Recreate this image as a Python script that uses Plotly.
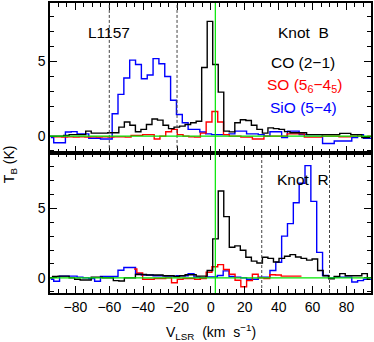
import plotly.graph_objects as go

# channel centres (km/s) for each line
v_co = [-95.11, -91.85, -88.59, -85.33, -82.07, -78.81, -75.55, -72.29, -69.03, -65.77,
        -62.51, -59.25, -55.99, -52.73, -49.47, -46.21, -42.95, -39.69, -36.43, -33.17,
        -29.91, -26.65, -23.39, -20.13, -16.87, -13.61, -10.35, -7.09, -3.83, -0.57,
        2.69, 5.95, 9.21, 12.47, 15.73, 18.99, 22.25, 25.51, 28.77, 32.03,
        35.29, 38.55, 41.81, 45.07, 48.33, 51.59, 54.85, 58.11, 61.37, 64.63,
        67.89, 71.15, 74.41, 77.67, 80.93, 84.19, 87.45, 90.71, 93.97]
v_so = [-93.17, -89.76, -86.35, -82.94, -79.53, -76.12, -72.71, -69.30, -65.89, -62.48,
        -59.07, -55.66, -52.25, -48.84, -45.43, -42.02, -38.61, -35.20, -31.79, -28.38,
        -24.97, -21.56, -18.15, -14.74, -11.33, -7.92, -4.51, -1.10, 2.31, 5.72,
        9.13, 12.54, 15.95, 19.36, 22.77, 26.18, 29.59, 33.00, 36.41, 39.82,
        43.23, 46.64, 50.05, 53.46, 56.87, 60.28, 63.69, 67.10, 70.51, 73.92,
        77.33, 80.74, 84.15, 87.56, 90.97, 94.38]
v_so_r = [-45.43, -42.02, -38.61, -35.20, -31.79, -28.38, -24.97, -21.56, -18.15, -14.74,
          -11.33, -7.92, -4.51, -1.10, 2.31, 5.72, 9.13, 12.54, 15.95, 19.36,
          22.77, 26.18, 29.59, 33.00, 36.41, 39.82, 43.23, 46.64, 50.05, 53.46]
v_sio = [-94.53, -91.08, -87.63, -84.18, -80.73, -77.28, -73.83, -70.38, -66.93, -63.48,
         -60.03, -56.58, -53.13, -49.68, -46.23, -42.78, -39.33, -35.88, -32.43, -28.98,
         -25.53, -22.08, -18.63, -15.18, -11.73, -8.28, -4.83, -1.38, 2.07, 5.52,
         8.97, 12.42, 15.87, 19.32, 22.77, 26.22, 29.67, 33.12, 36.57, 40.02,
         43.47, 46.92, 50.37, 53.82, 57.27, 60.72, 64.17, 67.62, 71.07, 74.52,
         77.97, 81.42, 84.87, 88.32, 91.77, 95.22]

# Knot B (top panel), T_B in K
co_b = [0.0, 0.0, 0.0, 0.05, 0.1, 0.1, 0.1, 0.33, 0.2, 0.2,
        0.2, 0.22, 0.22, 0.6, 0.95, 0.73, 0.29, 0.45, 0.78, 1.15,
        1.07, 0.73, 0.5, 0.6, 0.67, 0.78, 0.9, 1.0, 4.6, 7.7,
        4.8, 2.95, 0.33, 0.28, 0.9, 1.1, 1.05, 0.73, 0.45, 0.2,
        0.55, 0.5, 0.45, 0.3, 0.22, 0.22, 0.22, 0.1, 0.1, 0.1,
        0.1, 0.1, 0.1, 0.18, 0.18, 0.1, 0.1, -0.1, -0.1]
so_b = [-0.05, -0.05, -0.07, -0.05, -0.07, -0.05, -0.07, -0.05, -0.07, -0.05,
        -0.07, -0.05, -0.05, -0.07, 0.05, 0.05, 0.1, 0.1, -0.2, 0.0,
        0.29, 0.45, 0.1, 0.0, -0.05, -0.07, 0.2, 0.95, 1.65, 0.95,
        0.1, 0.0, 0.0, -0.07, -0.07, -0.2, -0.2, 0.0, 0.0, 0.0,
        0.0, 0.15, 0.15, 0.15, -0.07, -0.07, -0.07, 0.0, 0.0, 0.0,
        -0.05, -0.05, 0.0, 0.0, -0.05, 0.0]
sio_b = [-0.1, -0.45, -0.45, 0.27, 0.3, 0.15, 0.15, -0.15, -0.15, -0.2,
         -0.2, 1.5, 2.8, 3.9, 5.1, 4.8, 3.85, 4.1, 5.2, 4.85,
         4.0, 2.4, 1.45, 0.9, 0.45, 0.45, 0.27, 0.15, 0.1, 0.1,
         0.1, 0.15, 0.33, 0.33, 0.15, 0.15, 0.1, 0.0, 0.29, 0.29,
         -0.1, 0.33, 0.33, 0.1, 0.1, 0.1, 0.1, -0.5, -0.5, -0.33,
         -0.33, -0.33, -0.1, 0.1, -0.15, -0.15]

# Knot R (bottom panel)
co_r = [0.0, 0.1, 0.12, 0.12, 0.0, -0.1, -0.16, -0.16, 0.05, 0.05,
        0.0, 0.0, -0.2, -0.23, 0.0, 0.0, 0.24, 0.24, 0.2, 0.2,
        0.2, 0.15, 0.15, 0.1, 0.15, 0.22, 0.22, 0.12, 0.12, 0.53,
        2.8, 6.24, 4.4, 2.2, 2.3, 1.98, 1.48, 1.2, 1.07, 1.48,
        1.4, 1.14, 1.4, 1.55, 1.67, 1.5, 1.4, 1.27, 1.35, 0.53,
        0.15, -0.07, 0.1, 0.3, 0.15, 0.15, 0.15, 0.3, -0.1]
so_r = [0.64, 0.36, -0.1, -0.1, -0.05, -0.05, 0.0, -0.35, -0.1, -0.05,
        -0.05, -0.1, -0.05, 0.4, 0.8, 0.95, 0.6, 0.26, -0.17, -0.64,
        -0.2, 0.26, 0.0, -0.05, 0.22, 0.2, 0.12, 0.12, 0.12, 0.12]
sio_r = [-0.1, -0.25, 0.12, 0.12, 0.12, 0.05, 0.0, -0.05, -0.25, 0.1,
         0.1, 0.1, 0.55, 0.74, 0.74, 0.3, 0.2, 0.2, 0.15, 0.15,
         0.12, 0.12, 0.15, 0.15, 0.3, 0.05, 0.0, 0.07, 0.07, 0.17,
         0.5, 0.1, 0.05, 0.0, -0.1, -0.1, 0.05, 0.05, 0.53, 1.12,
         3.0, 3.9, 5.4, 6.8, 8.07, 5.5, 1.83, 0.17, 0.0, 0.05,
         0.05, 0.05, -0.3, -0.2, -0.1, -0.1]

v_sys = 2.6
dashes_b = [-60, -20]
dashes_r = [30, 70]

FONT = "Liberation Sans, Arial, sans-serif"
GREEN = "#00e600"

fig = go.Figure()

def spec(x, y, color, ya):
    fig.add_trace(go.Scatter(x=x, y=y, mode="lines", line_shape="hvh",
                             line=dict(color=color, width=1.4),
                             xaxis="x" if ya == "y" else "x2", yaxis=ya,
                             showlegend=False, hoverinfo="skip"))

spec(v_sio, sio_b, "#0000ff", "y")
spec(v_so, so_b, "#ff0000", "y")
spec(v_co, co_b, "#000000", "y")
spec(v_sio, sio_r, "#0000ff", "y2")
spec(v_so_r, so_r, "#ff0000", "y2")
spec(v_co, co_r, "#000000", "y2")

shapes = []
for v in dashes_b:
    shapes.append(dict(type="line", xref="x", yref="y domain", x0=v, x1=v, y0=0, y1=1,
                       line=dict(color="#444444", width=1, dash="3px,2px")))
for v in dashes_r:
    shapes.append(dict(type="line", xref="x2", yref="y2 domain", x0=v, x1=v, y0=0, y1=1,
                       line=dict(color="#444444", width=1, dash="3px,2px")))
# zero lines and systemic velocity
shapes.append(dict(type="line", xref="x domain", yref="y", x0=0, x1=1, y0=0, y1=0,
                   line=dict(color=GREEN, width=1.4)))
shapes.append(dict(type="line", xref="x2 domain", yref="y2", x0=0, x1=1, y0=0, y1=0,
                   line=dict(color=GREEN, width=1.4)))
shapes.append(dict(type="line", xref="x", yref="paper", x0=v_sys, x1=v_sys, y0=0, y1=1,
                   line=dict(color=GREEN, width=1.2)))

split = 0.483
xax = dict(range=[-95, 94.5], tickmode="linear", tick0=0, dtick=20, ticks="inside",
           ticklen=7, tickwidth=1.2, tickcolor="black", mirror="allticks", showline=True,
           linecolor="black", linewidth=1.5, showgrid=False, zeroline=False,
           minor=dict(dtick=5, ticklen=4, ticks="inside", tickcolor="black", tickwidth=1),
           tickfont=dict(family=FONT, size=14, color="black"))
yax = dict(tickmode="linear", tick0=0, dtick=5, ticks="inside", ticklen=7, tickwidth=1.2,
           tickcolor="black", mirror="allticks", showline=True, linecolor="black",
           linewidth=1.5, showgrid=False, zeroline=False,
           minor=dict(dtick=1, ticklen=4, ticks="inside", tickcolor="black", tickwidth=1),
           tickfont=dict(family=FONT, size=14, color="black"))

fig.update_layout(
    width=374, height=342,
    margin=dict(l=50, r=1, t=1, b=49),
    paper_bgcolor="white", plot_bgcolor="white",
    xaxis=dict(xax, anchor="y", showticklabels=False),
    yaxis=dict(yax, domain=[split, 1], range=[-1.13, 8.93], anchor="x"),
    xaxis2=dict(xax, anchor="y2", matches="x"),
    yaxis2=dict(yax, domain=[0, split], range=[-1.09, 8.98], anchor="x2"),
    shapes=shapes,
)

def label(text, x, y, color="black", size=15.5, angle=0):
    fig.add_annotation(text=text, x=x, y=y, xref="paper", yref="paper", showarrow=False,
                       xanchor="center", yanchor="middle", textangle=angle,
                       font=dict(family=FONT, size=size, color=color))

W, H = 323.0, 292.0
def px(x, y):
    return (x - 50) / W, (293 - y) / H

label("L1157", *px(109, 31))
label("Knot  B", *px(305, 31))
label("CO (2\u22121)", *px(305, 61))
label("SO (5<sub>6</sub>\u22124<sub>5</sub>)", *px(306, 84), color="#ff0000")
label("SiO (5\u22124)", *px(305, 106), color="#0000ff")
label("Knot  R", *px(305, 179))
label("V<sub>LSR</sub>  (km  s<sup>\u22121</sup>)", *px(212, 332), size=14)
label("T<sub>B</sub> (K)", *px(10, 163), size=14, angle=-90)

# page body has a default margin; drop it so the figure sits at the window corner
fig.write_html("out.html", config={"displayModeBar": False},
               post_script="document.body.style.margin='0';")
